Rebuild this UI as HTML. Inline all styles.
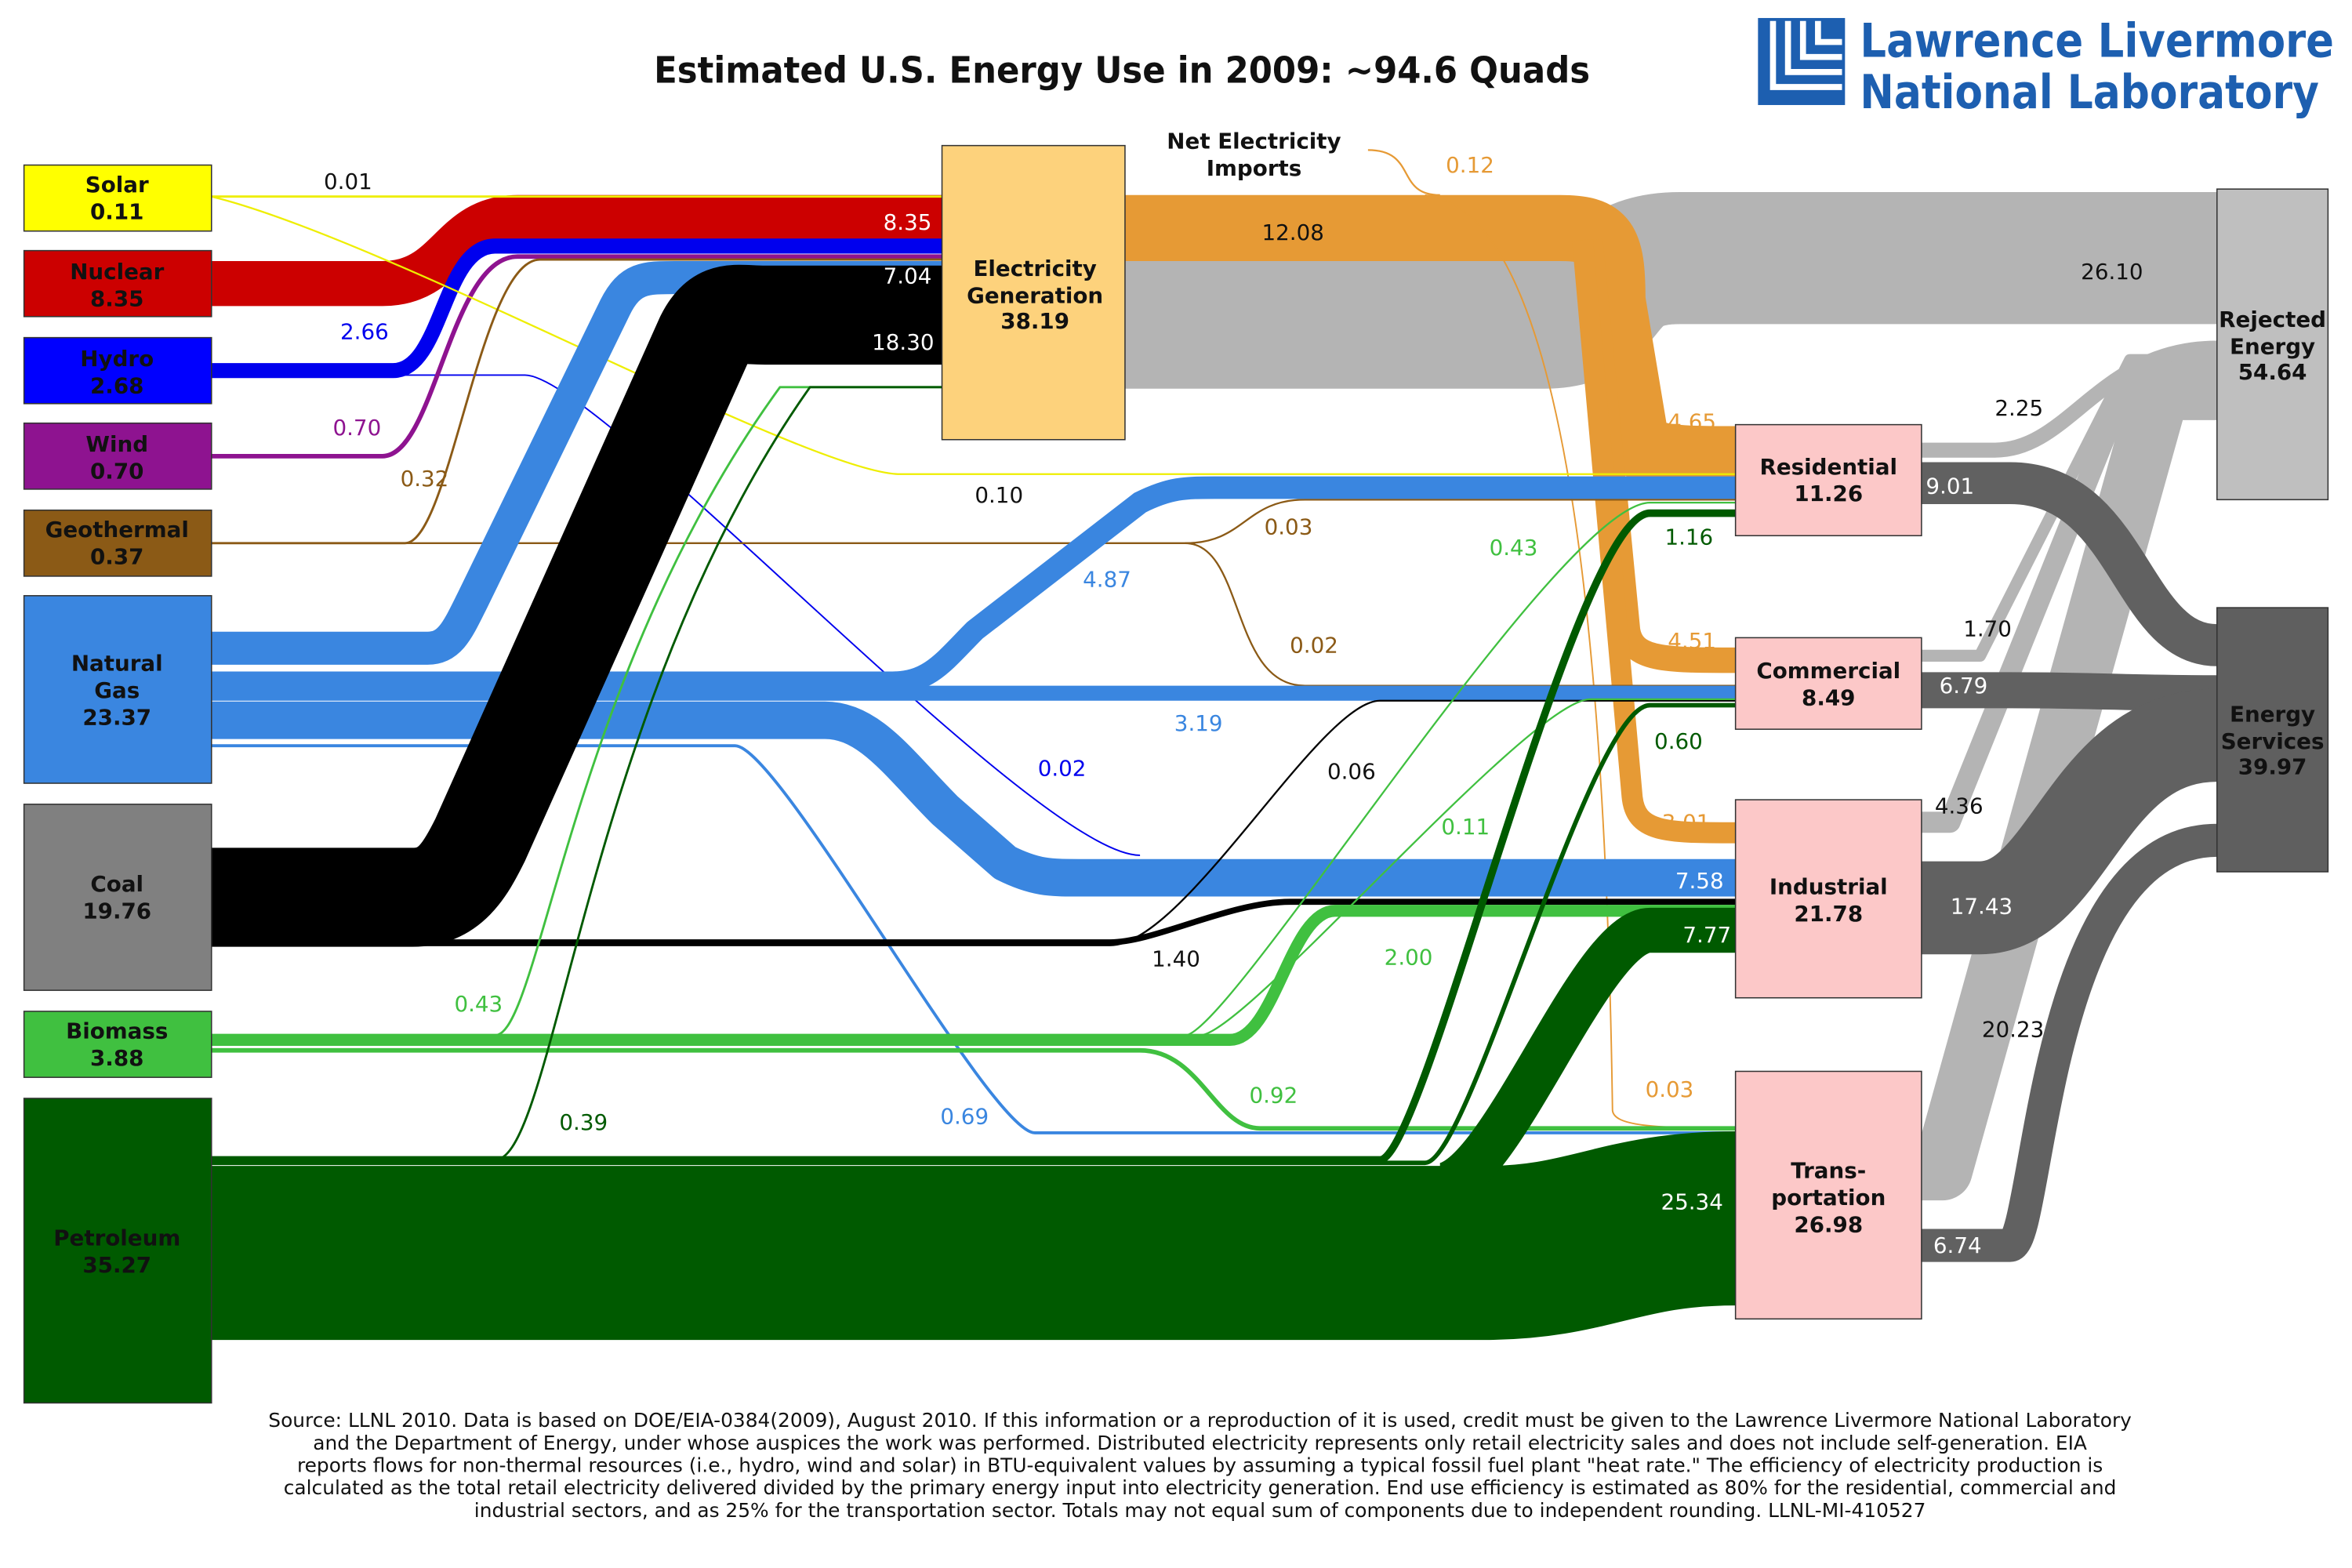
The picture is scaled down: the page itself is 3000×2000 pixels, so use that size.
<!DOCTYPE html>
<html><head><meta charset="utf-8"><style>
html,body{margin:0;padding:0;background:#fff}
svg{display:block}
text{font-family:"DejaVu Sans","Liberation Sans",sans-serif}
</style></head><body>
<svg width="3000" height="2000" viewBox="0 0 1568 1045" preserveAspectRatio="none" xmlns="http://www.w3.org/2000/svg">
<rect width="1568" height="1045" fill="#fff"/>
<text x="436" y="55" font-size="24" font-weight="bold" fill="#111" textLength="624" lengthAdjust="spacingAndGlyphs">Estimated U.S. Energy Use in 2009: ~94.6 Quads</text>
<!-- logo -->
<rect x="1172" y="12" width="58" height="58" fill="#1d5fb0"/>
<path d="M1182,14 v44 h46 M1192,14 v34 h36 M1202,14 v24 h26 M1212,14 v14 h16" stroke="#fff" stroke-width="4" fill="none"/>
<text x="1240" y="38" font-size="31" font-weight="bold" fill="#1d5fb0" font-family="Liberation Sans" textLength="316" lengthAdjust="spacingAndGlyphs">Lawrence Livermore</text>
<text x="1240" y="72" font-size="31" font-weight="bold" fill="#1d5fb0" font-family="Liberation Sans" textLength="306" lengthAdjust="spacingAndGlyphs">National Laboratory</text>

<g fill="none" stroke-linejoin="round">
<path d="M750,215 L1030,215 C1080,215 1060,172 1120,172 L1478,172" stroke="#b4b4b4" stroke-width="88"/>
<path d="M1281,780 L1295,780 L1440,260 L1478,260" stroke="#b4b4b4" stroke-width="40"/>
<path d="M1281,548 L1300,548 L1420,250 L1478,250" stroke="#b4b4b4" stroke-width="14"/>
<path d="M1281,437 L1320,437 L1420,240 L1478,240" stroke="#b4b4b4" stroke-width="8"/>
<path d="M1281,300 L1330,300 C1380,300 1400,232 1478,232" stroke="#b4b4b4" stroke-width="10"/>
<path d="M1281,322 L1340,322 C1420,322 1420,430 1478,430" stroke="#616161" stroke-width="28"/>
<path d="M1281,460 L1340,460 C1400,460 1420,462 1478,462" stroke="#616161" stroke-width="24"/>
<path d="M1281,605 L1320,605 C1380,605 1390,490 1478,490" stroke="#616161" stroke-width="62"/>
<path d="M1281,830 L1340,830 C1360,830 1360,560 1478,560" stroke="#616161" stroke-width="22"/>
<path d="M750,152 L1040,152 C1070,152 1075,160 1075,200 L1090,290 C1095,305 1110,306 1157,306" stroke="#e69a35" stroke-width="44"/>
<path d="M1060,160 L1085,420 C1088,440 1110,440 1157,440" stroke="#e69a35" stroke-width="17"/>
<path d="M1055,160 L1088,530 C1090,555 1110,555 1157,555" stroke="#e69a35" stroke-width="14"/>
<path d="M950,130 C1040,140 1070,400 1075,740 C1076,750 1100,752 1157,752" stroke="#e69a35" stroke-width="1"/>
<path d="M912,100 C945,100 930,130 960,130" stroke="#e69a35" stroke-width="1.2"/>
<path d="M141,189 L255,189 C300,189 300,145 345,145 L628,145" stroke="#cc0000" stroke-width="30"/>
<path d="M141,247 L262,247 C295,247 295,164 330,164 L628,164" stroke="#0000ee" stroke-width="10"/>
<path d="M141,250 L350,250 C400,250 690,570 760,570" stroke="#0000ee" stroke-width="1"/>
<path d="M141,304 L255,304 C290,304 300,171 345,171 L628,171" stroke="#8e1390" stroke-width="3"/>
<path d="M141,131 L628,131" stroke="#eeee00" stroke-width="1.5"/>
<path d="M141,131 C260,160 540,316 600,316 L1157,316" stroke="#eeee00" stroke-width="1.2"/>
<path d="M141,362 L270,362 C300,362 320,173 360,173 L628,173" stroke="#8b5a16" stroke-width="1.5"/>
<path d="M141,362 L790,362 C830,362 830,333 870,333 L1157,333" stroke="#8b5a16" stroke-width="1.2"/>
<path d="M790,362 C830,362 820,457 870,457 L1157,457" stroke="#8b5a16" stroke-width="1.2"/>
<path d="M141,432 L285,432 C300,432 305,420 315,400 L410,205 C420,185 430,185 450,185 L628,185" stroke="#3a86e0" stroke-width="22"/>
<path d="M141,455 L595,455 C620,455 630,440 650,420 L760,335 C780,325 790,325 810,325 L1157,325" stroke="#3a86e0" stroke-width="15"/>
<path d="M141,462 L1157,462" stroke="#3a86e0" stroke-width="10"/>
<path d="M141,480 L550,480 C580,480 600,510 630,540 L670,575 C690,585 700,585 720,585 L1157,585" stroke="#3a86e0" stroke-width="25"/>
<path d="M141,497 L490,497 C520,497 660,755 690,755 L1157,755" stroke="#3a86e0" stroke-width="2"/>
<path d="M141,598 L275,598 C300,598 310,580 320,560 L470,225 C480,205 490,210 510,210 L628,210" stroke="#000" stroke-width="66"/>
<path d="M141,628 L740,628 C770,628 820,601 860,601 L1157,601" stroke="#000" stroke-width="4"/>
<path d="M141,630 L740,630 C790,630 880,467 920,467 L1157,467" stroke="#000" stroke-width="1.2"/>
<path d="M141,693 L820,693 C850,693 860,607 890,607 L1157,607" stroke="#40c040" stroke-width="8"/>
<path d="M141,700 L760,700 C800,700 810,752 840,752 L1157,752" stroke="#40c040" stroke-width="3"/>
<path d="M141,690 L330,690 C360,690 380,450 520,258 L628,258" stroke="#40c040" stroke-width="1.5"/>
<path d="M141,690 L790,690 C820,690 1040,335 1100,335 L1157,335" stroke="#40c040" stroke-width="1.2"/>
<path d="M141,690 L800,690 C830,690 1020,466 1060,466 L1157,466" stroke="#40c040" stroke-width="1.2"/>
<path d="M141,835 L990,835 C1060,835 1080,812 1157,812" stroke="#005a00" stroke-width="116"/>
<path d="M960,790 C1000,790 1060,620 1100,620 L1157,620" stroke="#005a00" stroke-width="30"/>
<path d="M141,773 L330,773 C370,773 390,470 540,258 L628,258" stroke="#005a00" stroke-width="1.5"/>
<path d="M141,773 L920,773 C950,773 1050,342 1100,342 L1157,342" stroke="#005a00" stroke-width="5"/>
<path d="M141,775 L950,775 C980,775 1060,470 1100,470 L1157,470" stroke="#005a00" stroke-width="3"/>
</g>

<g stroke="#333" stroke-width="0.8">
<rect x="16" y="110" width="125" height="44" fill="#ffff00"/>
<rect x="16" y="167" width="125" height="44" fill="#cc0000"/>
<rect x="16" y="225" width="125" height="44" fill="#0000ff"/>
<rect x="16" y="282" width="125" height="44" fill="#8e1390"/>
<rect x="16" y="340" width="125" height="44" fill="#8b5a16"/>
<rect x="16" y="397" width="125" height="125" fill="#3a86e0"/>
<rect x="16" y="536" width="125" height="124" fill="#808080"/>
<rect x="16" y="674" width="125" height="44" fill="#40c040"/>
<rect x="16" y="732" width="125" height="203" fill="#005a00"/>
<rect x="628" y="97" width="122" height="196" fill="#fdd27c"/>
<rect x="1157" y="283" width="124" height="74" fill="#fcc8c8"/>
<rect x="1157" y="425" width="124" height="61" fill="#fcc8c8"/>
<rect x="1157" y="533" width="124" height="132" fill="#fcc8c8"/>
<rect x="1157" y="714" width="124" height="165" fill="#fcc8c8"/>
<rect x="1478" y="126" width="74" height="207" fill="#bfbfbf"/>
<rect x="1478" y="405" width="74" height="176" fill="#5f5f5f"/>
</g>

<g font-size="14.5" font-weight="bold" text-anchor="middle" fill="#111">
<text x="78" y="128">Solar</text><text x="78" y="146">0.11</text>
<text x="78" y="186">Nuclear</text><text x="78" y="204">8.35</text>
<text x="78" y="244">Hydro</text><text x="78" y="262">2.68</text>
<text x="78" y="301">Wind</text><text x="78" y="319">0.70</text>
<text x="78" y="358">Geothermal</text><text x="78" y="376">0.37</text>
<text x="78" y="447">Natural</text><text x="78" y="465">Gas</text><text x="78" y="483">23.37</text>
<text x="78" y="594">Coal</text><text x="78" y="612">19.76</text>
<text x="78" y="692">Biomass</text><text x="78" y="710">3.88</text>
<text x="78" y="830">Petroleum</text><text x="78" y="848">35.27</text>
<text x="690" y="184">Electricity</text><text x="690" y="202">Generation</text><text x="690" y="219">38.19</text>
<text x="1219" y="316">Residential</text><text x="1219" y="334">11.26</text>
<text x="1219" y="452">Commercial</text><text x="1219" y="470">8.49</text>
<text x="1219" y="596">Industrial</text><text x="1219" y="614">21.78</text>
<text x="1219" y="785">Trans-</text><text x="1219" y="803">portation</text><text x="1219" y="821">26.98</text>
<text x="1515" y="218">Rejected</text><text x="1515" y="236">Energy</text><text x="1515" y="253">54.64</text>
<text x="1515" y="481">Energy</text><text x="1515" y="499">Services</text><text x="1515" y="516">39.97</text>
<text x="836" y="99">Net Electricity</text><text x="836" y="117">Imports</text>
</g>

<g font-size="14.5" text-anchor="middle">
<text x="232" y="126" fill="#111">0.01</text>
<text x="605" y="153" fill="#fff">8.35</text>
<text x="605" y="189" fill="#fff">7.04</text>
<text x="602" y="233" fill="#fff">18.30</text>
<text x="243" y="226" fill="#0000ee">2.66</text>
<text x="238" y="290" fill="#8e1390">0.70</text>
<text x="283" y="324" fill="#8b5a16">0.32</text>
<text x="666" y="335" fill="#111">0.10</text>
<text x="980" y="115" fill="#e69a35">0.12</text>
<text x="862" y="160" fill="#111">12.08</text>
<text x="1408" y="186" fill="#111">26.10</text>
<text x="1128" y="286" fill="#e69a35">4.65</text>
<text x="1128" y="432" fill="#e69a35">4.51</text>
<text x="1124" y="553" fill="#e69a35">3.01</text>
<text x="1113" y="731" fill="#e69a35">0.03</text>
<text x="859" y="356" fill="#8b5a16">0.03</text>
<text x="876" y="435" fill="#8b5a16">0.02</text>
<text x="1009" y="370" fill="#40c040">0.43</text>
<text x="1126" y="363" fill="#005a00">1.16</text>
<text x="738" y="391" fill="#3a86e0">4.87</text>
<text x="799" y="487" fill="#3a86e0">3.19</text>
<text x="708" y="517" fill="#0000ee">0.02</text>
<text x="901" y="519" fill="#111">0.06</text>
<text x="1119" y="499" fill="#005a00">0.60</text>
<text x="977" y="556" fill="#40c040">0.11</text>
<text x="1133" y="592" fill="#fff">7.58</text>
<text x="1138" y="628" fill="#fff">7.77</text>
<text x="939" y="643" fill="#40c040">2.00</text>
<text x="784" y="644" fill="#111">1.40</text>
<text x="319" y="674" fill="#40c040">0.43</text>
<text x="849" y="735" fill="#40c040">0.92</text>
<text x="643" y="749" fill="#3a86e0">0.69</text>
<text x="389" y="753" fill="#005a00">0.39</text>
<text x="1128" y="806" fill="#fff">25.34</text>
<text x="1346" y="277" fill="#111">2.25</text>
<text x="1300" y="329" fill="#fff">9.01</text>
<text x="1325" y="424" fill="#111">1.70</text>
<text x="1309" y="462" fill="#fff">6.79</text>
<text x="1306" y="542" fill="#111">4.36</text>
<text x="1321" y="609" fill="#fff">17.43</text>
<text x="1342" y="691" fill="#111">20.23</text>
<text x="1305" y="835" fill="#fff">6.74</text>
</g>

<g font-size="13" text-anchor="middle" fill="#111">
<text x="800" y="951">Source: LLNL 2010. Data is based on DOE/EIA-0384(2009), August 2010. If this information or a reproduction of it is used, credit must be given to the Lawrence Livermore National Laboratory</text>
<text x="800" y="966">and the Department of Energy, under whose auspices the work was performed. Distributed electricity represents only retail electricity sales and does not include self-generation.  EIA</text>
<text x="800" y="981">reports flows for non-thermal resources (i.e., hydro, wind and solar) in BTU-equivalent values by assuming a typical fossil fuel plant "heat rate."  The efficiency of electricity production is</text>
<text x="800" y="996">calculated as the total retail electricity delivered divided by the primary energy input into electricity generation.  End use efficiency is estimated as 80% for the residential, commercial and</text>
<text x="800" y="1011">industrial sectors, and as 25% for the transportation sector.  Totals may not equal sum of components due to independent rounding. LLNL-MI-410527</text>
</g>
</svg>
</body></html>
